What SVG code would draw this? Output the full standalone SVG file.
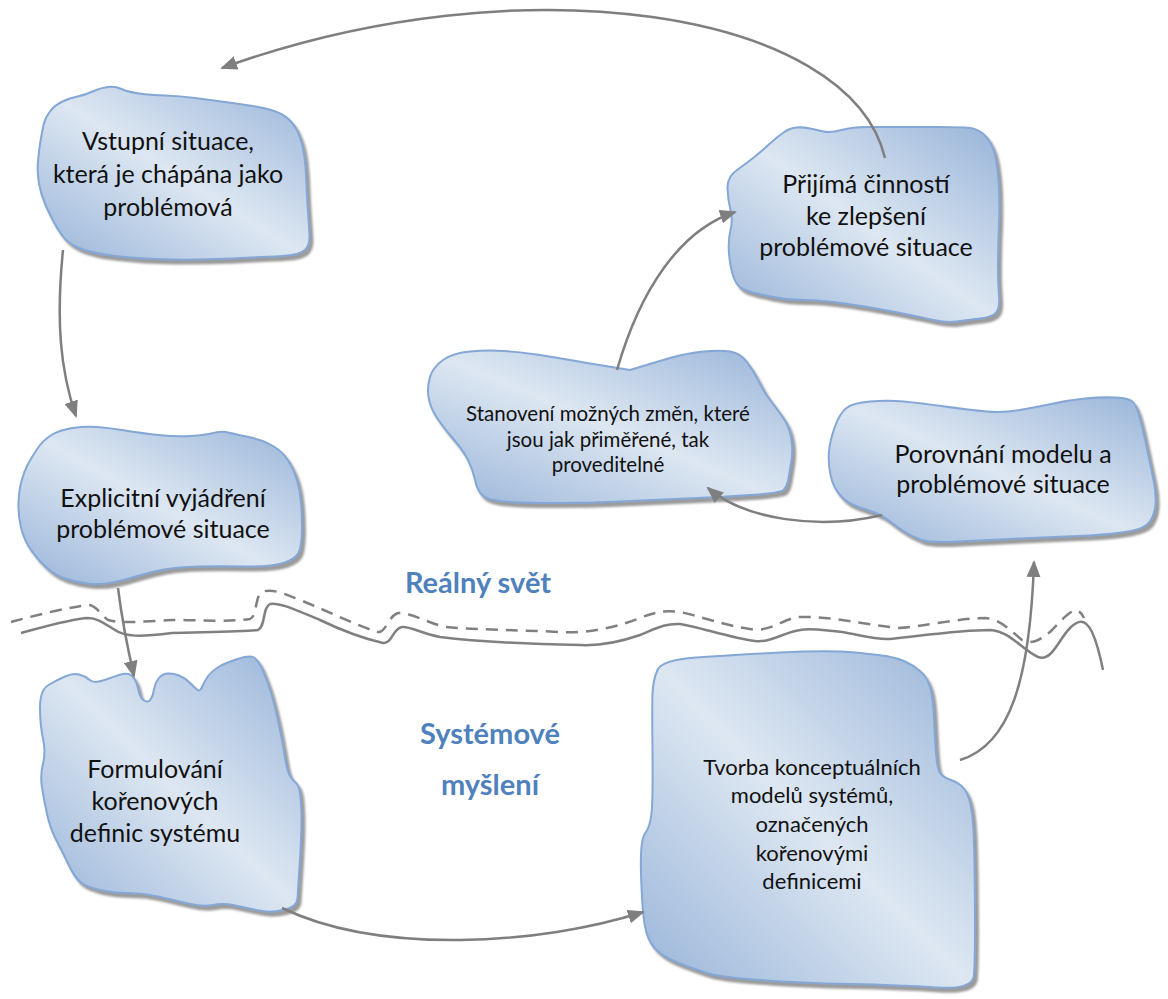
<svg xmlns="http://www.w3.org/2000/svg" width="1168" height="999" viewBox="0 0 1168 999">
  <defs>
    <linearGradient id="blobFill" x1="0" y1="1" x2="1" y2="0">
      <stop offset="0" stop-color="#98b4d9"/>
      <stop offset="0.5" stop-color="#dde7f2"/>
      <stop offset="1" stop-color="#98b4d9"/>
    </linearGradient>
    <filter id="shadow" x="-10%" y="-10%" width="125%" height="125%">
      <feDropShadow dx="3" dy="4" stdDeviation="1.2" flood-color="#7a7a7a" flood-opacity="0.75"/>
    </filter>
    <marker id="arrow" markerUnits="userSpaceOnUse" markerWidth="18" markerHeight="14" refX="15" refY="7" orient="auto">
      <path d="M0,0 L17,7 L0,14 Z" fill="#7f7f7f"/>
    </marker>
    <style>
      .blob { fill: url(#blobFill); stroke: #84a7d6; stroke-width: 2; stroke-linejoin: round; filter: url(#shadow); }
      .txt { font-family: Lato, "Open Sans", sans-serif; font-size: 25px; fill: #111; text-anchor: middle; }
      .small { font-size: 20.5px; }
      .mid { font-size: 22px; }
      .label { font-family: Lato, "Open Sans", sans-serif; font-weight: bold; font-size: 29px; fill: #4f81bd; text-anchor: middle; }
      .conn { fill: none; stroke: #7f7f7f; stroke-width: 2.5; }
      .wave { fill: none; stroke: #808080; stroke-width: 2.5; }
      .dashed { stroke-dasharray: 12 8; }
    </style>
  </defs>

  <!-- boundary between the real world and systems thinking -->
  <g id="boundary">
    <path class="wave" d="M21,633 C40,628 70,619 88,618 C98,618 105,624 115,630 C125,637 140,637 172,633 C200,632 240,632 258,630 C266,626 262,608 270,604 C280,602 300,612 320,620 C345,632 370,640 383,643 C392,644 393,628 402,627 C410,626 420,633 440,637 C480,642 530,644 580,645 C600,646 620,642 640,635 C655,629 665,623 680,624 C700,627 730,638 755,641 C770,643 785,632 800,630 C812,628 820,630 842,632 C860,635 875,640 890,639 C920,636 960,630 990,630 C1010,631 1022,650 1038,657 C1052,662 1058,640 1070,628 C1078,620 1085,618 1092,632 C1098,645 1101,660 1103,670"/>
    <path class="wave dashed" d="M11,622 C40,614 70,607 88,605 C96,605 100,614 108,620 C120,624 150,621 172,620 C200,620 230,622 250,619 C258,615 254,598 262,592 C272,588 285,594 300,600 C330,612 355,625 378,632 C386,633 388,616 398,613 C410,612 425,622 445,627 C480,630 520,630 560,632 C590,634 620,626 640,618 C655,612 665,610 680,612 C700,616 725,626 756,630 C775,629 785,618 800,617 C830,616 860,624 899,628 C920,627 960,618 985,618 C1000,619 1010,630 1022,640 C1032,645 1040,640 1050,632 C1060,622 1068,612 1076,610 C1080,611 1082,614 1084,618"/>
  </g>

  <g id="node-vstupni">
    <path class="blob" d="M43.5,125 Q45,118 50,111.5 Q55,105 62.5,101.5 Q70,98 77.5,96.5 Q85,95 92.5,91.5 Q100,88 107.5,87 Q115,86 121.5,89 Q128,92 139,93.5 Q150,95 165,95.5 Q180,96 195,98 Q210,100 225,102 Q240,104 252.5,106 Q265,108 274,111 Q283,114 289,119.5 Q295,125 299,135 Q303,145 304.5,157.5 Q306,170 306.5,185 Q307,200 308,212.5 Q309,225 309.5,235 Q310,245 305,250 Q300,255 282.5,256 Q265,257 232.5,258.5 Q200,260 170,259.5 Q140,259 115,256 Q90,253 79,248 Q68,243 63,236.5 Q58,230 54,222.5 Q50,215 45.5,205 Q41,195 39,183.5 Q37,172 38,161 Q39,150 40.5,141 Q42,132 43.5,125 Z"/>
    <text class="txt" x="168" y="150">Vstupní situace,</text>
    <text class="txt" x="168" y="183">která je chápána jako</text>
    <text class="txt" x="168" y="216">problémová</text>
  </g>

  <g id="node-explicitni">
    <path class="blob" d="M27,466 Q30,460 36.5,450 Q43,440 51.5,435 Q60,430 72.5,428 Q85,426 97.5,427 Q110,428 125,430.5 Q140,433 158.5,435 Q177,437 191,436 Q205,435 213.5,433 Q222,431 226,432 Q230,433 246.5,436.5 Q263,440 273,446 Q283,452 288.5,461 Q294,470 297,480 Q300,490 301,502.5 Q302,515 302,527.5 Q302,540 300,549 Q298,558 285,562.5 Q272,567 246,566.5 Q220,566 199,566.5 Q178,567 164,569.5 Q150,572 137.5,576 Q125,580 112.5,582.5 Q100,585 87.5,583.5 Q75,582 65,578.5 Q55,575 46.5,567.5 Q38,560 31,550 Q24,540 21,527.5 Q18,515 18.5,502.5 Q19,490 21.5,481 Q24,472 27,466 Z"/>
    <text class="txt" x="163" y="507">Explicitní vyjádření</text>
    <text class="txt" x="163" y="538">problémové situace</text>
  </g>

  <g id="node-formulovani">
    <path class="blob" d="M40,707.5 Q40,690 48.5,685 Q57,680 65,676.5 Q73,673 79,674.5 Q85,676 89,679.5 Q93,683 99,681.5 Q105,680 109,678.5 Q113,677 119,675 Q125,673 128.5,674 Q132,675 134.5,679 Q137,683 138.5,690.5 Q140,698 144,700.5 Q148,703 150.5,699.5 Q153,696 154,689.5 Q155,683 158.5,678.5 Q162,674 167.5,673.5 Q173,673 179,675.5 Q185,678 190,683 Q195,688 197.5,690 Q200,692 202.5,686 Q205,680 208.5,675.5 Q212,671 218.5,667 Q225,663 237.5,659 Q250,655 254,657.5 Q258,660 261.5,667.5 Q265,675 268.5,685 Q272,695 275,707.5 Q278,720 280.5,732.5 Q283,745 285,757.5 Q287,770 289.5,775 Q292,780 296,783 Q300,786 301,803 Q302,820 301,840 Q300,860 299,875 Q298,890 297.5,898.5 Q297,907 283.5,910 Q270,913 258.5,910.5 Q247,908 235,905.5 Q223,903 213,905 Q203,907 188,903.5 Q173,900 158,896.5 Q143,893 128,893 Q113,893 100,890 Q87,887 81,882.5 Q75,878 69,865.5 Q63,853 56.5,840.5 Q50,828 47,814 Q44,800 42,787.5 Q40,775 43,763.5 Q46,752 43,738.5 Q40,725 40,707.5 Z"/>
    <text class="txt" x="155" y="778">Formulování</text>
    <text class="txt" x="155" y="810">kořenových</text>
    <text class="txt" x="155" y="842">definic systému</text>
  </g>

  <g id="node-tvorba">
    <path class="blob" d="M657.5,670 Q662,660 696,657.5 Q730,655 780,652.5 Q830,650 855,652.5 Q880,655 888.5,656.5 Q897,658 905,661.5 Q913,665 920,671 Q927,677 930,687 Q933,697 934,718.5 Q935,740 936,753.5 Q937,767 939.5,772 Q942,777 951,780 Q960,783 965,790 Q970,797 972,813.5 Q974,830 974.5,865 Q975,900 975,930 Q975,960 974,975 Q973,990 936.5,987.5 Q900,985 850,984 Q800,983 760,980 Q720,977 708.5,973.5 Q697,970 680,963.5 Q663,957 655,948.5 Q647,940 644.5,923.5 Q642,907 641,873.5 Q640,840 645,833.5 Q650,827 651.5,813.5 Q653,800 652.5,753.5 Q652,707 652.5,693.5 Q653,680 657.5,670 Z"/>
    <text class="txt mid" x="812" y="775">Tvorba konceptuálních</text>
    <text class="txt mid" x="812" y="803">modelů systémů,</text>
    <text class="txt mid" x="812" y="832">označených</text>
    <text class="txt mid" x="812" y="861">kořenovými</text>
    <text class="txt mid" x="812" y="889">definicemi</text>
  </g>

  <g id="node-porovnani">
    <path class="blob" d="M829,451.5 Q830,440 835,426.5 Q840,413 846.5,408 Q853,403 870,401.5 Q887,400 903.5,401.5 Q920,403 945,406.5 Q970,410 986.5,411.5 Q1003,413 1020,410 Q1037,407 1053.5,403.5 Q1070,400 1085,398.5 Q1100,397 1115,397.5 Q1130,398 1133.5,402.5 Q1137,407 1140,418.5 Q1143,430 1146.5,446.5 Q1150,463 1153.5,480 Q1157,497 1155,508.5 Q1153,520 1146.5,525 Q1140,530 1121.5,532.5 Q1103,535 1078,536 Q1053,537 1020,538.5 Q987,540 958.5,541.5 Q930,543 921.5,540 Q913,537 905,532 Q897,527 889.5,521 Q882,515 874.5,512.5 Q867,510 857,506.5 Q847,503 840,495 Q833,487 830.5,475 Q828,463 829,451.5 Z"/>
    <text class="txt" x="1003" y="463">Porovnání modelu a</text>
    <text class="txt" x="1003" y="493">problémové situace</text>
  </g>

  <g id="node-stanoveni">
    <path class="blob" d="M430,377 Q433,367 443,360 Q453,353 470,351.5 Q487,350 503.5,351 Q520,352 536.5,354.5 Q553,357 570,360 Q587,363 608.5,366.5 L630,370 L641.5,366.5 Q653,363 670,358 Q687,353 703.5,351.5 Q720,350 730,351.5 Q740,353 746.5,361.5 Q753,370 758,380 Q763,390 766.5,395 Q770,400 776.5,408.5 Q783,417 786.5,423.5 Q790,430 791.5,440 Q793,450 791.5,460 Q790,470 788.5,478.5 Q787,487 783.5,490 Q780,493 750,495 Q720,497 686.5,498.5 Q653,500 620,501.5 Q587,503 553.5,503 Q520,503 503.5,501.5 Q487,500 482,495 Q477,490 475,480 Q473,470 468,460 Q463,450 453,438.5 Q443,427 436.5,417 Q430,407 428.5,397 Q427,387 430,377 Z"/>
    <text class="txt small" x="608" y="421">Stanovení možných změn, které</text>
    <text class="txt small" x="608" y="447">jsou jak přiměřené, tak</text>
    <text class="txt small" x="608" y="472">proveditelné</text>
  </g>

  <g id="node-prijima">
    <path class="blob" d="M727.5,188.5 Q727,177 737,170 Q747,163 755,156.5 Q763,150 770,143.5 Q777,137 783.5,132.5 Q790,128 796.5,127.5 Q803,127 810,128.5 Q817,130 823.5,131.5 Q830,133 841.5,130 Q853,127 866.5,127 Q880,127 900,127 Q920,127 936.5,127 Q953,127 965,127.5 Q977,128 983.5,134 Q990,140 993.5,150 Q997,160 998.5,180 Q1000,200 999,225 Q998,250 998,266.5 Q998,283 999,295 Q1000,307 996.5,312 Q993,317 980,318.5 Q967,320 957,321.5 Q947,323 933.5,320 Q920,317 895,312 Q870,307 845,303.5 Q820,300 803.5,300 Q787,300 770,296.5 Q753,293 745,290 Q737,287 733.5,277 Q730,267 729,253.5 Q728,240 730.5,230 Q733,220 730.5,210 Q728,200 727.5,188.5 Z"/>
    <text class="txt" x="866" y="193">Přijímá činností</text>
    <text class="txt" x="866" y="225">ke zlepšení</text>
    <text class="txt" x="866" y="256">problémové situace</text>
  </g>

  <g id="labels">
    <text class="label" x="478" y="593">Reálný svět</text>
    <text class="label" x="490" y="744">Systémové</text>
    <text class="label" x="490" y="795">myšlení</text>
  </g>

  <g id="connectors">
    <path class="conn" marker-end="url(#arrow)" d="M885,158 C850,10 520,-40 222,68"/>
    <path class="conn" marker-end="url(#arrow)" d="M63,250 C56,320 60,370 76,416"/>
    <path class="conn" marker-end="url(#arrow)" d="M118,588 C122,620 128,650 134,676"/>
    <path class="conn" marker-end="url(#arrow)" d="M282,908 C380,955 540,945 643,912"/>
    <path class="conn" marker-end="url(#arrow)" d="M960,760 C1010,745 1030,680 1034,562"/>
    <path class="conn" marker-end="url(#arrow)" d="M882,515 C820,530 745,520 708,488"/>
    <path class="conn" marker-end="url(#arrow)" d="M617,370 C640,290 680,230 735,212"/>
  </g>
</svg>
